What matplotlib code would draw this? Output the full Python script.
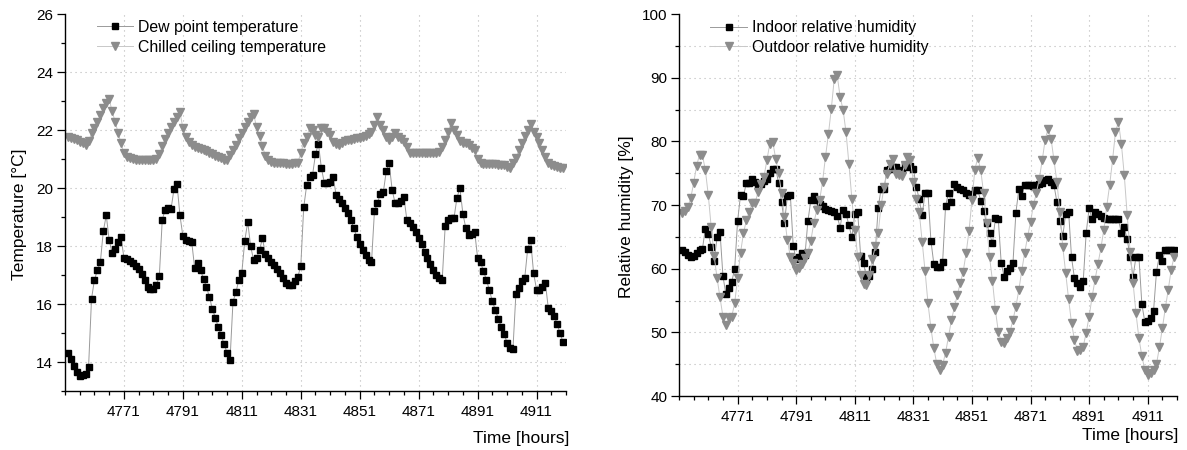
import numpy as np
import matplotlib.pyplot as plt
from matplotlib.ticker import FixedLocator, MultipleLocator

plt.rcParams['font.family'] = ['Liberation Sans', 'DejaVu Sans']

# hourly samples, 4752 .. 4920
hours = np.arange(4752, 4921)

dew_point = [
    14.31, 14.11, 13.85, 13.66, 13.52, 13.54, 13.57, 13.83,
    16.18, 16.84, 17.16, 17.45, 18.51, 19.06, 18.2, 17.76, 17.91, 18.13,
    18.31, 17.59, 17.54, 17.48, 17.4, 17.31, 17.19, 17.05, 16.82, 16.6,
    16.53, 16.53, 16.66, 16.95, 18.91, 19.25, 19.31, 19.29, 19.97, 20.14,
    19.06, 18.34, 18.2, 18.16, 18.14, 17.24, 17.43, 17.16, 16.87, 16.59,
    16.24, 15.84, 15.52, 15.21, 14.92, 14.61, 14.31, 14.08, 16.08, 16.4,
    16.84, 17.08, 18.18, 18.83, 17.99, 17.51, 17.59, 17.86, 18.26, 17.74,
    17.59, 17.44, 17.33, 17.21, 17.08, 16.9, 16.71, 16.64, 16.67, 16.79,
    16.94, 17.3, 19.33, 20.09, 20.39, 20.45, 21.17, 21.52, 20.68, 20.18,
    20.16, 20.22, 20.37, 19.76, 19.61, 19.47, 19.3, 19.13, 18.9, 18.61,
    18.32, 18.06, 17.86, 17.69, 17.52, 17.44, 19.19, 19.48, 19.8, 19.85,
    20.57, 20.85, 19.94, 19.48, 19.5, 19.56, 19.69, 18.9, 18.8, 18.67,
    18.49, 18.29, 18.06, 17.8, 17.57, 17.37, 17.17, 17.0, 16.89, 16.84,
    18.68, 18.91, 18.97, 18.97, 19.66, 20.0, 19.12, 18.62, 18.39, 18.43,
    18.5, 17.6, 17.44, 17.14, 16.83, 16.48, 16.1, 15.8, 15.5, 15.22,
    14.96, 14.67, 14.47, 14.45, 16.36, 16.55, 16.78, 16.9, 17.9, 18.2,
    17.07, 16.5, 16.47, 16.58, 16.73, 15.85, 15.75, 15.6, 15.3, 14.99,
    14.68,
]

chilled_ceiling = [
    21.77, 21.74, 21.7, 21.66, 21.6, 21.54, 21.5, 21.62,
    21.88, 22.06, 22.28, 22.52, 22.75, 22.94, 23.06, 22.64, 22.29, 21.91,
    21.54, 21.19, 21.08, 21.02, 21.0, 20.98, 20.98, 20.97, 20.97, 20.97,
    20.98, 20.97, 20.99, 21.17, 21.45, 21.68, 21.9, 22.1, 22.28, 22.45,
    22.62, 22.06, 21.75, 21.58, 21.48, 21.42, 21.37, 21.33, 21.3, 21.27,
    21.22, 21.18, 21.12, 21.07, 21.02, 20.97, 20.97, 21.13, 21.31, 21.5,
    21.72, 21.9, 22.1, 22.28, 22.45, 22.55, 22.1, 21.78, 21.45, 21.1,
    20.95, 20.9, 20.87, 20.86, 20.85, 20.85, 20.84, 20.84, 20.83, 20.85,
    20.87, 21.2, 21.56, 21.77, 22.06, 22.0, 21.83, 21.75, 22.06, 22.06,
    21.94, 21.83, 21.6, 21.52, 21.5, 21.56, 21.62, 21.65, 21.67, 21.7,
    21.72, 21.74, 21.76, 21.8, 21.86, 21.94, 22.17, 22.46, 22.17, 22.0,
    21.77, 21.66, 21.77, 21.89, 21.77, 21.7, 21.6, 21.43, 21.22, 21.2,
    21.2, 21.19, 21.2, 21.19, 21.2, 21.2, 21.19, 21.2, 21.25, 21.43,
    21.66, 21.94, 22.23, 22.0, 21.83, 21.62, 21.54, 21.54, 21.5, 21.37,
    21.31, 20.99, 20.85, 20.84, 20.83, 20.84, 20.83, 20.82, 20.81, 20.8,
    20.78, 20.74, 20.68, 20.85, 21.05, 21.3, 21.55, 21.8, 22.0, 22.2,
    21.94, 21.77, 21.54, 21.31, 21.08, 20.87, 20.79, 20.75, 20.72, 20.7,
    20.68,
]

indoor_rh = [
    62.93, 62.6, 62.2, 61.9, 62.05, 62.4, 62.9, 63.1,
    66.3, 65.5, 63.4, 61.2, 64.9, 65.8, 58.85, 56.0, 56.9, 57.95,
    59.93, 67.46, 71.54, 71.38, 73.47, 73.47, 74.15, 73.62, 73.1, 73.36,
    73.8, 74.15, 75.04, 75.72, 75.72, 73.47, 70.49, 67.2, 71.38, 71.64,
    63.54, 61.45, 61.87, 62.5, 62.13, 67.46, 70.75, 71.38, 70.75, 70.12,
    69.86, 69.44, 69.29, 69.07, 68.92, 68.24, 66.46, 69.28, 68.66, 66.83,
    64.91, 68.55, 68.92, 62.0, 60.82, 58.74, 58.85, 59.9, 62.67, 69.6,
    72.58, 72.58, 75.56, 75.72, 75.98, 75.98, 75.2, 75.46, 76.25, 75.98,
    76.09, 75.72, 72.9, 70.9, 68.4, 71.9, 71.9, 64.35, 60.73, 60.2,
    60.2, 61.1, 69.87, 71.9, 70.5, 73.27, 72.75, 72.5, 72.33, 71.91,
    71.55, 71.7, 72.33, 72.33, 70.66, 69.1, 67.1, 65.64, 63.97, 67.9,
    67.73, 60.83, 58.74, 59.68, 60.05, 60.83, 68.78, 72.44, 71.39, 73.12,
    73.12, 73.12, 72.96, 73.12, 73.3, 73.48, 74.0, 74.16, 73.64, 73.12,
    70.5, 67.47, 65.12, 68.57, 68.93, 61.77, 58.48, 57.7, 57.07, 58.11,
    65.64, 69.46, 67.73, 68.93, 68.57, 68.25, 67.9, 67.73, 67.73, 67.73,
    67.73, 67.73, 65.64, 66.48, 64.6, 61.88, 58.74, 61.88, 61.88, 54.45,
    51.68, 51.84, 52.21, 53.41, 59.52, 62.14, 61.25, 62.92, 62.92, 62.92,
    62.92,
]

outdoor_rh = [
    68.67, 69.09, 69.72, 71.03, 73.48, 76.1, 77.93, 77.82,
    75.47, 71.55, 66.48, 61.98, 58.48, 55.5, 52.47, 51.16, 52.21, 52.47,
    54.56, 58.48, 62.5, 65.54, 67.63, 68.93, 70.34, 70.34, 72.07, 73.27,
    74.42, 77.04, 79.65, 79.91, 77.3, 75.05, 71.81, 68.15, 64.49, 61.88,
    60.83, 59.79, 60.05, 60.73, 61.62, 62.5, 64.39, 67.1, 69.19, 70.76,
    73.64, 77.56, 81.11, 85.14, 89.84, 90.37, 86.97, 84.98, 81.48, 76.51,
    71.02, 66.06, 61.88, 59.0, 57.59, 57.4, 59.0, 61.46, 63.5, 65.54,
    69.98, 72.85, 74.94, 76.51, 77.3, 74.94, 74.68, 74.53, 76.25, 77.56,
    77.04, 73.64, 71.0, 68.93, 64.23, 59.6, 54.56, 50.64, 47.5, 45.04,
    44.1, 44.89, 46.82, 49.33, 51.94, 53.93, 55.87, 57.7, 59.52, 62.4,
    65.95, 70.76, 75.57, 77.45, 75.47, 71.81, 67.1, 61.88, 58.11, 53.51,
    50.12, 48.55, 48.4, 49.07, 50.12, 51.94, 54.03, 56.65, 59.68, 62.5,
    65.01, 67.37, 69.98, 71.91, 74.16, 77.04, 80.28, 82.0, 80.43, 77.04,
    73.64, 68.93, 63.45, 59.26, 55.19, 51.42, 48.81, 47.14, 47.2, 47.77,
    49.96, 52.47, 55.5, 58.22, 60.73, 63.18, 66.06, 69.72, 73.12, 77.04,
    81.48, 83.05, 79.65, 74.68, 68.41, 62.66, 57.8, 52.99, 49.07, 46.3,
    44.1, 43.32, 43.6, 44.1, 45.04, 47.66, 50.64, 53.77, 56.65, 59.79,
    61.88,
]

x_major = np.arange(4771, 4912, 20)
x_minor = np.arange(4751, 4922, 5)

W, H = 1187, 450
fig = plt.figure(figsize=(W / 100, H / 100), dpi=100)
ax1 = fig.add_axes([65 / W, 1 - 391 / H, (566 - 65) / W, (391 - 14) / H])
ax2 = fig.add_axes([679 / W, 1 - 396 / H, (1177 - 679) / W, (396 - 14) / H])

sq = dict(marker='s', markersize=5.0, color='#9a9a9a', lw=0.7,
          markerfacecolor='black', markeredgecolor='black')
tri = dict(marker='v', markersize=6.2, color='#c8c8c8', lw=0.7,
           markerfacecolor='#8c8c8c', markeredgecolor='#8c8c8c')

ax1.plot(hours, dew_point, label='Dew point temperature', **sq)
ax1.plot(hours, chilled_ceiling, label='Chilled ceiling temperature', **tri)
ax2.plot(hours, indoor_rh, label='Indoor relative humidity', **sq)
ax2.plot(hours, outdoor_rh, label='Outdoor relative humidity', **tri)

grid_kw = dict(color='#b8b8b8', lw=0.8, linestyle=(0, (1, 3.5)), zorder=0)

ax1.set_xlim(4751, 4921)
ax1.set_ylim(13, 26)
ax1.yaxis.set_major_locator(MultipleLocator(2))
ax1.yaxis.set_minor_locator(MultipleLocator(1))
for v in np.arange(14, 25, 2):
    ax1.axhline(v, **grid_kw)

ax2.set_xlim(4751, 4921)
ax2.set_ylim(40, 100)
ax2.yaxis.set_major_locator(MultipleLocator(10))
ax2.yaxis.set_minor_locator(MultipleLocator(5))
for v in np.arange(45, 96, 5):
    ax2.axhline(v, **grid_kw)

for ax in (ax1, ax2):
    ax.xaxis.set_major_locator(FixedLocator(x_major))
    ax.xaxis.set_minor_locator(FixedLocator(x_minor))
    for v in x_major:
        ax.axvline(v, **grid_kw)
    ax.spines['top'].set_visible(False)
    ax.spines['right'].set_visible(False)
    for s in ('left', 'bottom'):
        ax.spines[s].set_linewidth(1.0)
    ax.tick_params(which='major', direction='out', length=5.5, width=0.9,
                   labelsize=11, colors='black')
    ax.tick_params(which='minor', direction='out', length=3, width=0.9)
    ax.tick_params(axis='x', pad=4.5)
    ax.tick_params(axis='y', pad=3)
    ax.legend(loc='upper left', bbox_to_anchor=(0.063, 0.984), frameon=False,
              fontsize=11.4, handlelength=2.3, handletextpad=0.3,
              labelspacing=0.3, borderaxespad=0, borderpad=0, numpoints=1)

ax1.set_xlabel('Time [hours]', fontsize=12.5, ha='right')
ax1.xaxis.set_label_coords(1.006, -0.105)
ax1.set_ylabel('Temperature [°C]', fontsize=12.5)
ax1.yaxis.set_label_coords(-0.075, 0.47)

ax2.set_xlabel('Time [hours]', fontsize=12.5, ha='right')
ax2.xaxis.set_label_coords(1.003, -0.083)
ax2.set_ylabel('Relative humidity [%]', fontsize=12.5)
ax2.yaxis.set_label_coords(-0.09, 0.47)

fig.savefig('out.png', dpi=100)
